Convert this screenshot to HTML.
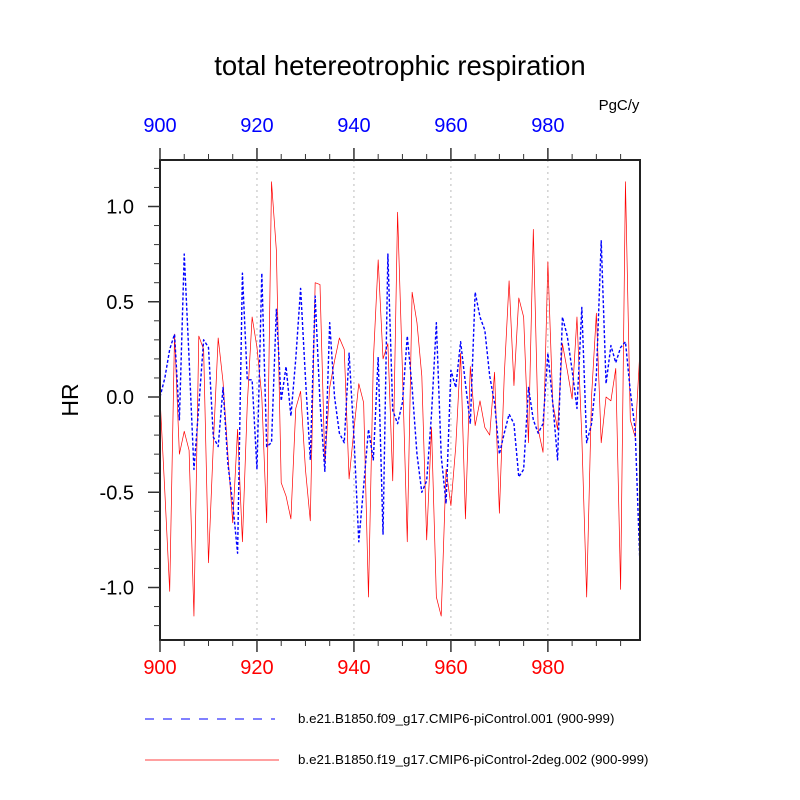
<!DOCTYPE html>
<html><head><meta charset="utf-8"><style>
html,body{margin:0;padding:0;background:#fff}
svg{display:block;font-family:"Liberation Sans",sans-serif}
</style></head><body>
<svg id="chart" width="800" height="800" viewBox="0 0 800 800">
<text x="400" y="75" font-size="27.5" text-anchor="middle">total hetereotrophic respiration</text>
<text x="619" y="110" font-size="15" text-anchor="middle">PgC/y</text>
<text x="78" y="400" font-size="23" text-anchor="middle" transform="rotate(-90 78 400)">HR</text>
<g id="grid"></g>
<g id="series"></g>
<g id="axes"></g>
<g>
<line x1="145" y1="719" x2="275" y2="719" stroke="#0000ff" stroke-width="1" stroke-dasharray="9,9"/>
<text x="298" y="723" font-size="13.3">b.e21.B1850.f09_g17.CMIP6-piControl.001 (900-999)</text>
<line x1="145" y1="760" x2="279" y2="760" stroke="#ff0000" stroke-width="0.7"/>
<text x="298" y="764" font-size="13.3">b.e21.B1850.f19_g17.CMIP6-piControl-2deg.002 (900-999)</text>
</g>
</svg>
<script>
const startYear = 900;
const blueValues = [0.0,0.1,0.25,0.33,-0.12,0.75,0.2,-0.38,-0.05,0.3,0.26,-0.21,-0.26,0.05,-0.35,-0.56,-0.82,0.65,0.09,0.09,-0.38,0.65,-0.26,-0.24,0.46,-0.02,0.16,-0.1,0.2,0.57,0.1,-0.33,0.53,-0.03,-0.39,0.39,0.0,-0.19,-0.24,0.23,-0.21,-0.76,-0.47,-0.17,-0.33,0.21,-0.72,0.75,-0.07,-0.14,-0.03,0.32,0.05,-0.3,-0.5,-0.44,-0.09,0.39,-0.31,-0.56,0.14,0.05,0.29,0.07,-0.14,0.55,0.42,0.35,0.11,-0.03,-0.3,-0.19,-0.09,-0.14,-0.42,-0.38,0.05,-0.12,-0.19,-0.14,0.23,-0.03,-0.33,0.42,0.32,0.14,-0.06,0.47,-0.24,-0.14,0.11,0.82,0.07,0.27,0.18,0.26,0.29,0.03,-0.17,-0.89];
const redValues = [0.0,-0.5,-1.02,0.33,-0.3,-0.18,-0.28,-1.15,0.32,0.25,-0.87,-0.25,0.31,0.08,-0.3,-0.66,-0.17,-0.76,-0.04,0.42,0.26,0.0,-0.66,1.13,0.77,-0.45,-0.52,-0.64,-0.06,0.03,-0.38,-0.65,0.6,0.59,-0.35,0.05,0.19,0.31,0.25,-0.43,-0.17,0.07,-0.03,-1.05,0.19,0.72,0.2,0.28,-0.44,0.97,0.14,-0.76,0.55,0.39,0.11,-0.75,-0.16,-1.05,-1.15,-0.38,-0.57,-0.26,0.23,-0.64,0.16,-0.15,-0.02,-0.16,-0.2,0.13,-0.61,0.11,0.61,0.06,0.52,0.42,-0.24,0.88,-0.17,-0.29,0.71,-0.03,-0.17,0.28,0.14,-0.01,0.42,-0.21,-1.05,0.0,0.44,-0.24,0.0,-0.02,0.15,-1.01,1.13,-0.12,-0.21,0.25];
const xTicks = [900,920,940,960,980];
const yTicks = [-1.0,-0.5,0.0,0.5,1.0];
const yTickLabels = ["-1.0","-0.5","0.0","0.5","1.0"];

const L=160,R=640,T=160,B=640;
const xMin=900,xMax=999;
const X=v=>L+(v-xMin)/(xMax-xMin)*(R-L);
const Y=v=>397-v*190.5;
const NS='http://www.w3.org/2000/svg';
function mk(tag,attrs,parent){const e=document.createElementNS(NS,tag);for(const k in attrs)e.setAttribute(k,attrs[k]);parent.appendChild(e);return e;}
const grid=document.getElementById('grid'),series=document.getElementById('series'),axes=document.getElementById('axes');

xTicks.forEach(t=>{if(t===xMin)return;
 const g=mk('line',{x1:X(t),x2:X(t),y1:T,y2:B,stroke:'#bbb','stroke-width':1,'stroke-dasharray':'2,4'},grid);
 
 
});

function path(vals,color,w,dash,name){
 const d=vals.map((v,i)=>(i?'L':'M')+X(startYear+i).toFixed(2)+' '+Y(v).toFixed(2)).join(' ');
 const p=mk('path',{d:d,fill:'none',stroke:color,'stroke-width':w,'stroke-linejoin':'round'},series);
 if(dash)p.setAttribute('stroke-dasharray',dash);
 
 
}
path(redValues,'#ff0000',0.7,null,'red-series-line');
path(blueValues,'#0000ff',1.4,'3,2','blue-series-line');

const box=mk('rect',{x:L,y:T,width:R-L,height:B-T,fill:'none',stroke:'#222','stroke-width':2},axes);



for(let yr=900;yr<=995;yr+=5){
 const major=yr%20===0;
 const len=major?12:6;
 const tb=mk('line',{x1:X(yr),x2:X(yr),y1:B,y2:B+len,stroke:'#333','stroke-width':major?1.5:1},axes);
 
 
 const tt=mk('line',{x1:X(yr),x2:X(yr),y1:T,y2:T-len,stroke:'#333','stroke-width':major?1.5:1},axes);
 
 
}
xTicks.forEach(t=>{
 const b=mk('text',{x:X(t),y:674,'font-size':20,'text-anchor':'middle',fill:'#ff0000'},axes);
 b.textContent=t;
 
 
 const a=mk('text',{x:X(t),y:132,'font-size':20,'text-anchor':'middle',fill:'#0000ff'},axes);
 a.textContent=t;
 
 
});
for(let k=-12;k<=12;k++){
 const v=k/10;const major=k%5===0;
 const ln=mk('line',{x1:L-(major?12:6),x2:L,y1:Y(v),y2:Y(v),stroke:'#333','stroke-width':major?1.5:1},axes);
 
 
}
yTicks.forEach((t,i)=>{
 const e=mk('text',{x:134,y:Y(t)+7,'font-size':20,'text-anchor':'end',fill:'#000'},axes);
 e.textContent=yTickLabels[i];
 
 
});
</script>
</body></html>
